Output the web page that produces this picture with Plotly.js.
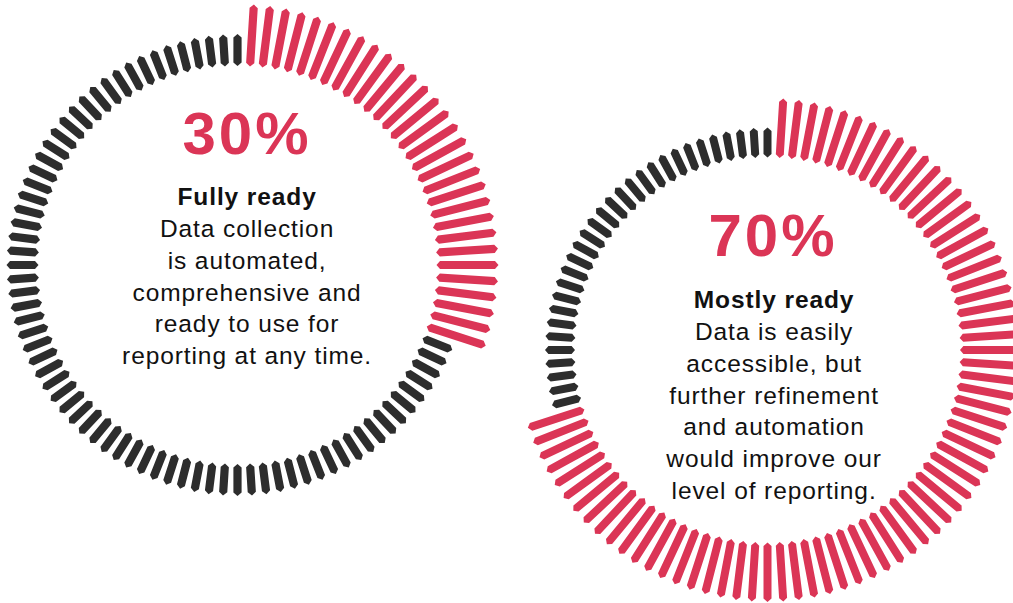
<!DOCTYPE html>
<html><head><meta charset="utf-8">
<script src="https://cdn.plot.ly/plotly-3.0.1.min.js"></script>
<style>
html,body{margin:0;padding:0;background:#fff;overflow:hidden}
.annotation[data-index="0"] text, .annotation[data-index="2"] text {letter-spacing:3px}
.annotation[data-index="1"] text, .annotation[data-index="3"] text {letter-spacing:0.9px}
</style>
</head><body><div id="chart" style="width:1013px;height:603px"></div>
<script>
// ---- data ----
const gaugeNames = ["Fully ready", "Mostly ready"];
const readinessPct = [30, 70];
const tickCounts = [100, 100];
const headlineLabels = ["30%", "70%"];
const descriptions = [
  ["Data collection", "is automated,", "comprehensive and", "ready to use for", "reporting at any time."],
  ["Data is easily", "accessible, but", "further refinement", "and automation", "would improve our", "level of reporting."]
];

// ---- layout geometry (pixel units of the full-page axes) ----
const ringGeom = [
  {cx: 237.5, cy: 265, rIn: 199, rOutBase: 231, rOutHi: 261, half: 4.1, tip: 3.5, textX: 247, headY: 133, bodyY: 276},
  {cx: 767.5, cy: 350, rIn: 192.5, rOutBase: 222.5, rOutHi: 252, half: 4.0, tip: 3.4, textX: 773, headY: 235, bodyY: 395}
];
const RED = "#DB3556", DARK = "#2D2D2D";
const FONT = "Liberation Sans, Arial, Helvetica, sans-serif";

function tickPolygon(g, thetaDeg, rOut, xs, ys) {
  const t = thetaDeg * Math.PI / 180;
  const ux = Math.sin(t), uy = -Math.cos(t);   // radial (pixel, y down)
  const vx = Math.cos(t), vy = Math.sin(t);    // perpendicular
  const pts = [
    [g.rIn, 0], [g.rIn + g.tip, g.half], [rOut - g.tip, g.half],
    [rOut, 0], [rOut - g.tip, -g.half], [g.rIn + g.tip, -g.half]
  ];
  pts.forEach(([u, v]) => {
    xs.push(g.cx + u * ux + v * vx);
    ys.push(g.cy + u * uy + v * vy);
  });
  xs.push(null); ys.push(null);
}

const traces = [];
const annotations = [];
gaugeNames.forEach((name, gi) => {
  const g = ringGeom[gi];
  const n = tickCounts[gi];
  const nHi = Math.round(readinessPct[gi] / 100 * n);
  const hx = [], hy = [], bx = [], by = [];
  for (let k = 1; k <= n; k++) {
    const theta = k * 360 / n;
    if (k <= nHi) tickPolygon(g, theta, g.rOutHi, hx, hy);
    else tickPolygon(g, theta, g.rOutBase, bx, by);
  }
  traces.push({type: "scatter", mode: "lines", x: bx, y: by, fill: "toself",
    fillcolor: DARK, line: {width: 0, color: DARK}, hoverinfo: "skip", name: name + " rest"});
  traces.push({type: "scatter", mode: "lines", x: hx, y: hy, fill: "toself",
    fillcolor: RED, line: {width: 0, color: RED}, hoverinfo: "skip", name: name});
  annotations.push({x: g.textX, y: g.headY, xref: "x", yref: "y", showarrow: false,
    text: "<b>" + headlineLabels[gi] + "</b>", font: {family: FONT, size: 60, color: RED},
    xanchor: "center", yanchor: "middle"});
  annotations.push({x: g.textX, y: g.bodyY, xref: "x", yref: "y", showarrow: false,
    text: "<b>" + name + "</b><br>" + descriptions[gi].join("<br>"),
    font: {family: FONT, size: 24.5, color: "#111111"}, align: "center",
    xanchor: "center", yanchor: "middle"});
});

const layout = {
  width: 1013, height: 603,
  margin: {l: 0, r: 0, t: 0, b: 0, pad: 0},
  paper_bgcolor: "#ffffff", plot_bgcolor: "#ffffff",
  showlegend: false,
  xaxis: {range: [0, 1013], visible: false, fixedrange: true},
  yaxis: {range: [603, 0], visible: false, fixedrange: true},
  annotations: annotations
};
Plotly.newPlot("chart", traces, layout, {staticPlot: true, displayModeBar: false});
</script>
</body></html>
